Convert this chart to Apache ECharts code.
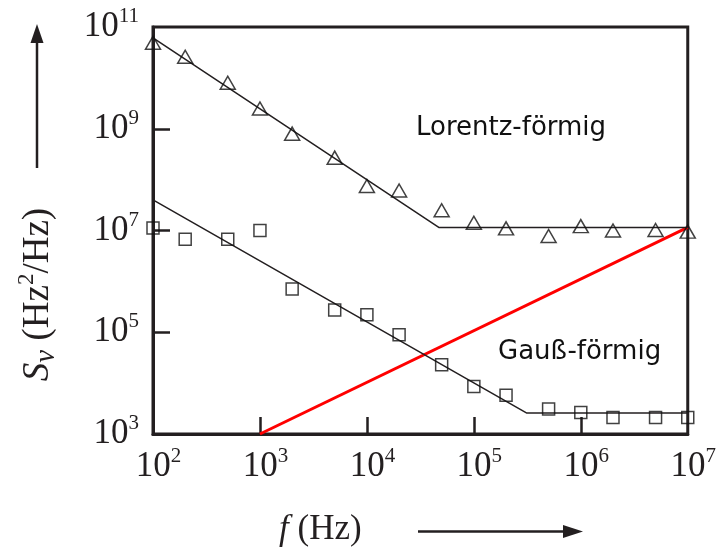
<!DOCTYPE html>
<html>
<head>
<meta charset="utf-8">
<script src="https://cdn.jsdelivr.net/npm/echarts@6/dist/echarts.min.js"></script>
<style>
  html, body { margin: 0; padding: 0; background: #fff; }
  #chart { width: 719px; height: 552px; }
</style>
</head>
<body>
<div id="chart"></div>
<script>
// Frequency points (Hz) shared by both measured spectra
const freqs = [1e2, 2e2, 5e2, 1e3, 2e3, 5e3, 1e4, 2e4, 5e4, 1e5, 2e5, 5e5, 1e6, 2e6, 5e6, 1e7];

// Frequency-noise PSD S_nu (Hz^2/Hz), Lorentzian case (triangles)
const lorentzValues = [4.9e10, 2.6e10, 8.0e9, 2.5e9, 8.0e8, 2.7e8, 7.5e7, 6.1e7, 2.5e7,
                       1.42e7, 1.1e7, 7.8e6, 1.22e7, 1.0e7, 1.02e7, 9.5e6];

// Frequency-noise PSD S_nu (Hz^2/Hz), Gaussian case (squares)
const gaussValues = [1.12e7, 6.7e6, 6.7e6, 1.0e7, 7.1e5, 2.75e5, 2.2e5, 8.9e4, 2.3e4,
                     8.6e3, 5.8e3, 3.1e3, 2.65e3, 2.1e3, 2.1e3, 2.1e3];

// Piecewise fits: [frequency, S_nu]
const lorentzFit = [[1e2, 6.1e10], [4.7e4, 1.15e7], [1e7, 1.15e7]];
const gaussFit = [[1e2, 4.0e7], [3.1e5, 2.6e3], [1e7, 2.6e3]];

// Separation line (red)
const separationLine = [[1e3, 1e3], [1e7, 1.15e7]];

// Axis ticks and labels
const xTickValues = [1e3, 1e4, 1e5, 1e6];
const xLabelValues = [1e2, 1e3, 1e4, 1e5, 1e6, 1e7];
const yTickValues = [1e5, 1e7, 1e9];
const yLabelValues = [1e3, 1e5, 1e7, 1e9, 1e11];

const curveLabels = ['Lorentz-förmig', 'Gauß-förmig'];

const INK = '#231f20';
const SERIF = '"Liberation Serif", "DejaVu Serif", serif';
const SANS = '"DejaVu Sans", sans-serif';

const pair = (xs, ys) => xs.map((x, i) => [x, ys[i]]);
const exponent = v => Math.round(Math.log10(v));

const powerRich = {
  pad1: { width: 11 },
  pad2: { width: 22 },
  b: { fontFamily: SERIF, fontSize: 35, lineHeight: 42, color: INK },
  sup: { fontFamily: SERIF, fontSize: 21, lineHeight: 21, verticalAlign: 'top', color: INK }
};

const chart = echarts.init(document.getElementById('chart'), null, { renderer: 'canvas' });

chart.setOption({
  animation: false,
  backgroundColor: '#ffffff',
  grid: {
    left: 153, right: 29, top: 27, bottom: 117,
    show: true, borderColor: INK, borderWidth: 3, backgroundColor: 'transparent'
  },
  xAxis: {
    type: 'log', logBase: 10, min: 1e2, max: 1e7,
    splitLine: { show: false },
    axisLine: { show: true, lineStyle: { color: INK, width: 3 } },
    axisTick: {
      show: true, inside: true, length: 17,
      customValues: xTickValues,
      lineStyle: { color: INK, width: 2.5 }
    },
    axisLabel: {
      customValues: xLabelValues,
      margin: 12,
      formatter: v => {
        const e = String(exponent(v));
        return '{pad' + e.length + '|}{b|10}{sup|' + e + '}';
      },
      rich: powerRich
    },
    name: '{i|f}{n| (Hz)}',
    nameLocation: 'middle',
    nameGap: 78,
    nameTextStyle: {
      padding: [0, 200, 0, 0],
      rich: {
        i: { fontFamily: SERIF, fontStyle: 'italic', fontSize: 35, color: INK },
        n: { fontFamily: SERIF, fontSize: 35, color: INK }
      }
    }
  },
  yAxis: {
    type: 'log', logBase: 10, min: 1e3, max: 1e11,
    splitLine: { show: false },
    axisLine: { show: true, lineStyle: { color: INK, width: 3 } },
    axisTick: {
      show: true, inside: true, length: 17,
      customValues: yTickValues,
      lineStyle: { color: INK, width: 2.5 }
    },
    axisLabel: {
      customValues: yLabelValues,
      margin: 14,
      formatter: v => '{b|10}{sup|' + exponent(v) + '}',
      rich: powerRich
    },
    name: '{s|S}{sub|ν}{n| (Hz}{sup|2}{n|/Hz)}',
    nameLocation: 'middle',
    nameRotate: 90,
    nameGap: 92,
    nameTextStyle: {
      padding: [0, 128, 0, 0],
      rich: {
        s: { fontFamily: SERIF, fontStyle: 'italic', fontSize: 37, lineHeight: 46, color: INK },
        sub: { fontFamily: SERIF, fontStyle: 'italic', fontSize: 29, lineHeight: 29, verticalAlign: 'bottom', color: INK },
        n: { fontFamily: SERIF, fontSize: 37, lineHeight: 46, color: INK },
        sup: { fontFamily: SERIF, fontSize: 23, lineHeight: 23, verticalAlign: 'top', color: INK }
      }
    }
  },
  series: [
    {
      name: 'separation', type: 'line', data: separationLine,
      symbol: 'none', silent: true, z: 2,
      lineStyle: { color: '#ff0000', width: 3 }
    },
    {
      name: 'lorentzFit', type: 'line', data: lorentzFit,
      symbol: 'none', silent: true, z: 3,
      lineStyle: { color: INK, width: 1.5 }
    },
    {
      name: 'gaussFit', type: 'line', data: gaussFit,
      symbol: 'none', silent: true, z: 3,
      lineStyle: { color: INK, width: 1.5 }
    },
    {
      name: curveLabels[0], type: 'scatter', data: pair(freqs, lorentzValues),
      symbol: 'triangle', symbolSize: [15, 13], clip: false, z: 4,
      itemStyle: { color: 'rgba(0,0,0,0)', borderColor: '#111', borderWidth: 1.5 }
    },
    {
      name: curveLabels[1], type: 'scatter', data: pair(freqs, gaussValues),
      symbol: 'rect', symbolSize: 12, clip: false, z: 4,
      itemStyle: { color: 'rgba(0,0,0,0)', borderColor: '#111', borderWidth: 1.5 }
    }
  ],
  graphic: [
    // Curve labels
    { type: 'text', left: 416, top: 115, z: 10,
      style: { text: curveLabels[0], font: '26px ' + SANS, fill: '#111' } },
    { type: 'text', left: 498, top: 339, z: 10,
      style: { text: curveLabels[1], font: '26px ' + SANS, fill: '#111' } },
    // Vertical arrow beside the y-axis title
    { type: 'line', z: 10, shape: { x1: 37, y1: 168, x2: 37, y2: 40 },
      style: { stroke: INK, lineWidth: 2.5 } },
    { type: 'polygon', z: 10, shape: { points: [[37, 24], [30.5, 43], [43.5, 43]] },
      style: { fill: INK } },
    // Horizontal arrow beside the x-axis title
    { type: 'line', z: 10, shape: { x1: 418, y1: 531.5, x2: 566, y2: 531.5 },
      style: { stroke: INK, lineWidth: 2.5 } },
    { type: 'polygon', z: 10, shape: { points: [[583, 531.5], [563, 525], [563, 538]] },
      style: { fill: INK } }
  ]
});
</script>
</body>
</html>
